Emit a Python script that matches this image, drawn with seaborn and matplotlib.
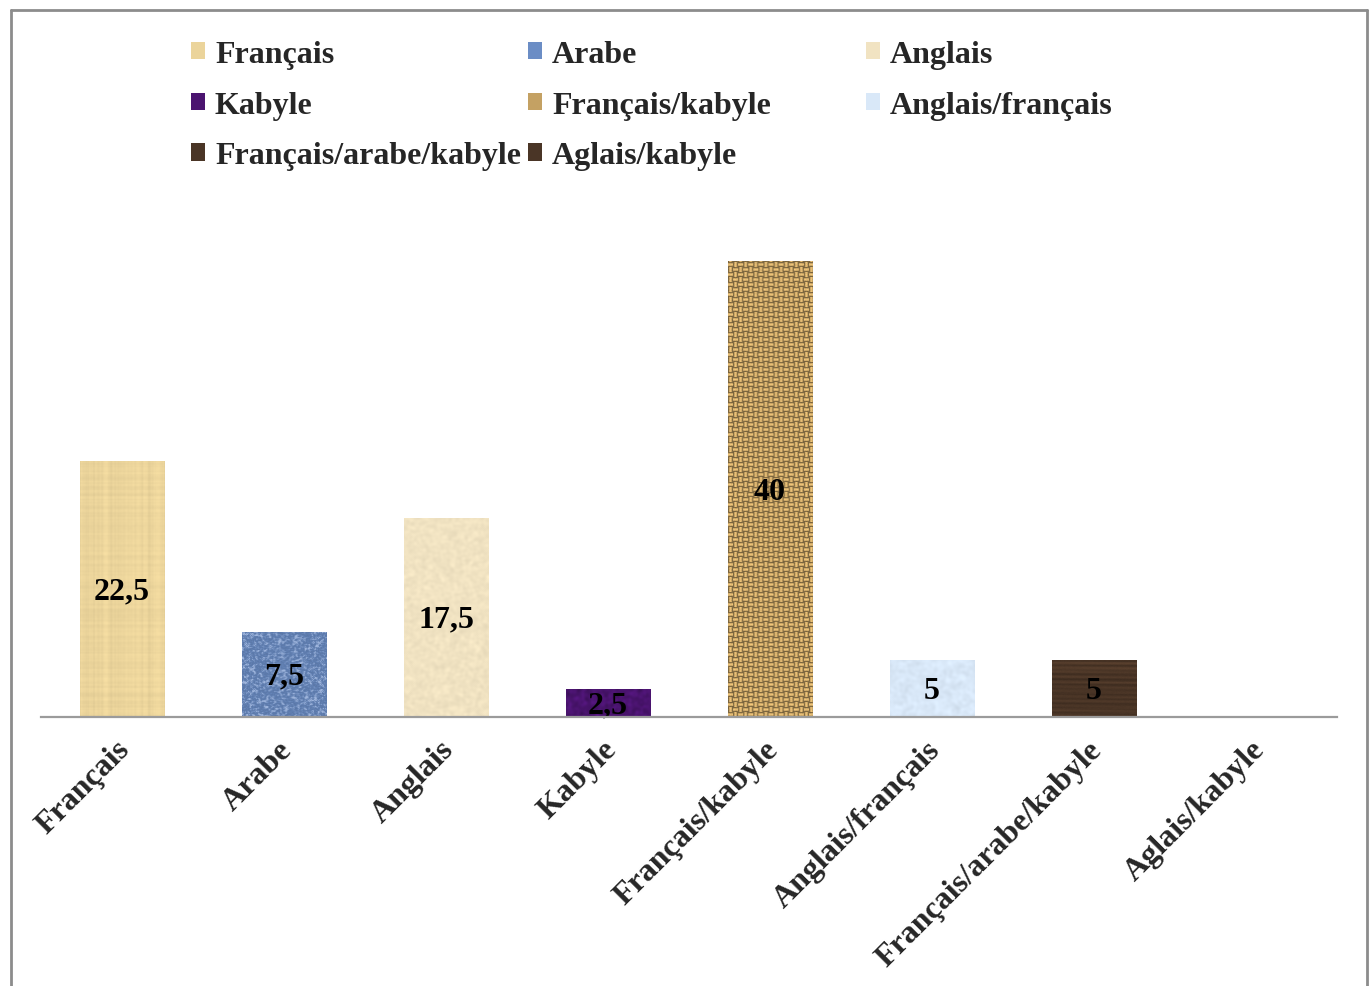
import numpy as np
import pandas as pd
import seaborn as sns
import matplotlib.pyplot as plt
import matplotlib.transforms as mtransforms
from matplotlib.patches import Patch
from matplotlib.lines import Line2D

# Langues utilisées (pourcentages)
categories = ["Français", "Arabe", "Anglais", "Kabyle", "Français/kabyle",
              "Anglais/français", "Français/arabe/kabyle", "Aglais/kabyle"]
values = [22.5, 7.5, 17.5, 2.5, 40, 5, 5, 0]
value_labels = ["22,5", "7,5", "17,5", "2,5", "40", "5", "5", ""]
colors = ["#EBD49B", "#6B8DC5", "#F1E3C2", "#4B1470", "#C4A163",
          "#D9E8F8", "#4A3526", "#4A3526"]
textures = ["papyrus", "denim", "parchment", "velvet", "weave",
            "marble", "wood", "wood"]

W, H = 1371, 987
sns.set_theme(style="white")
plt.rcParams["font.family"] = ["Liberation Serif", "DejaVu Serif"]
plt.rcParams["font.weight"] = "bold"
FS = 23

fig = plt.figure(figsize=(W / 100, H / 100), dpi=100)
ax = fig.add_axes([41 / W, 269 / H, 1296 / W, 513 / H])

df = pd.DataFrame({"langue": categories, "pct": values})
sns.barplot(data=df, x="langue", y="pct", hue="langue", palette=colors,
            saturation=1, width=0.52, legend=False, ax=ax, zorder=2)


def hash_noise(h, w, seed):
    i, j = np.mgrid[0:h, 0:w]
    v = np.sin(i * 12.9898 + j * 78.233 + seed * 37.719) * 43758.5453
    return v - np.floor(v)


def smooth(a, k):
    out = a.copy()
    for _ in range(k):
        out = (out + np.roll(out, 1, 0) + np.roll(out, -1, 0)
               + np.roll(out, 1, 1) + np.roll(out, -1, 1)) / 5.0
    return out


def texture(kind, base, h, w, seed):
    rgb = np.array(plt.matplotlib.colors.to_rgb(base))
    n = hash_noise(h, w, seed)
    if kind == "papyrus":
        cols = smooth(hash_noise(1, w, seed + 1).repeat(h, 0), 1)
        rows = smooth(hash_noise(h, 1, seed + 2).repeat(w, 1), 1)
        f = 1 + 0.07 * (cols - 0.5) + 0.05 * (rows - 0.5) + 0.03 * (smooth(n, 2) - 0.5)
        img = rgb * f[..., None]
    elif kind == "denim":
        s = smooth(n, 1)
        light = np.clip((s - 0.5) * 4, 0, 1)
        img = rgb * (0.85 + 0.1 * n)[..., None] * (1 - light[..., None] * 0.5) \
            + light[..., None] * 0.5 * np.array([0.85, 0.9, 1.0])
    elif kind == "parchment":
        f = 1 + 0.05 * (smooth(n, 4) - 0.5) * 4
        img = rgb * f[..., None]
    elif kind == "velvet":
        f = 1 + 0.35 * (smooth(n, 4) - 0.5) * 3
        img = rgb * f[..., None]
    elif kind == "weave":
        i, j = np.mgrid[0:h, 0:w]
        block = ((i // 5) + (j // 5)) % 2
        stripe = np.where(block == 0, (i % 5) / 4.0, (j % 5) / 4.0)
        f = 0.65 + 0.55 * np.sin(np.pi * stripe) + 0.1 * (n - 0.5)
        img = rgb * f[..., None]
    elif kind == "marble":
        f = 1 + 0.06 * (smooth(n, 5) - 0.5) * 4
        img = rgb * f[..., None]
    else:  # wood
        rows = smooth(hash_noise(h, 1, seed + 3).repeat(w, 1), 1)
        i, j = np.mgrid[0:h, 0:w]
        f = 1 + 0.25 * (rows - 0.5) + 0.08 * np.sin(i * 1.3 + j * 0.02) + 0.05 * (n - 0.5)
        img = rgb * f[..., None]
    return np.clip(img, 0, 1)


px_per_unit = 513 / 45
for k, bar in enumerate(ax.patches):
    h_val = bar.get_height()
    if h_val <= 0:
        continue
    x0 = bar.get_x()
    bw = bar.get_width()
    hp = max(int(round(h_val * px_per_unit)), 2)
    img = texture(textures[k], colors[k], hp, 84, k)
    im = ax.imshow(img, extent=(x0, x0 + bw, 0, h_val), aspect="auto",
                   origin="lower", zorder=3, interpolation="bilinear")
    im.set_clip_path(bar)

ax.set_xlim(-0.5, len(categories) - 0.5)
ax.set_ylim(0, 45)

# Étiquettes de valeurs au centre des barres
label_tr = mtransforms.offset_copy(ax.transData, fig=fig, x=0, y=-2, units="dots")
for k, bar in enumerate(ax.patches):
    if value_labels[k]:
        ax.text(bar.get_x() + bar.get_width() / 2, values[k] / 2, value_labels[k],
                ha="center", va="center", fontsize=FS, fontweight="bold",
                color="black", zorder=5, transform=label_tr)

for s in ["left", "right", "top"]:
    ax.spines[s].set_visible(False)
ax.spines["bottom"].set_color("#9b9b9b")
ax.spines["bottom"].set_linewidth(1.6)
ax.spines["bottom"].set_zorder(6)
ax.set_yticks([])
ax.set_xlabel("")
ax.set_ylabel("")
ax.tick_params(axis="x", length=0, pad=10)
ax.set_xticks(range(len(categories)))
ax.set_xticklabels(categories, rotation=45, ha="right", va="center",
                   rotation_mode="anchor", fontsize=FS, fontweight="bold")
shift = mtransforms.ScaledTranslation(4 / 100, -14 / 100, fig.dpi_scale_trans)
for lab in ax.get_xticklabels():
    lab.set_transform(lab.get_transform() + shift)

# Légende en trois colonnes
order = [[0, 3, 6], [1, 4, 7], [2, 5]]
col_x = [191, 528, 866]
for cx, idx in zip(col_x, order):
    handles = [Patch(facecolor=colors[i], edgecolor="none") for i in idx]
    labels = [categories[i] for i in idx]
    fig.legend(handles, labels, loc="upper left",
               bbox_to_anchor=(cx / W, 1 - 41 / H), frameon=False,
               prop={"weight": "bold", "size": FS},
               handlelength=0.45, handleheight=0.45, handletextpad=0.3,
               labelspacing=0.68, borderpad=0, borderaxespad=0)

# Cadre du graphique
frame_kw = dict(color="#8c8c8c", lw=2, transform=fig.transFigure)
fig.add_artist(Line2D([11 / W, 11 / W], [0, 1 - 11 / H], **frame_kw))
fig.add_artist(Line2D([11 / W, 1367 / W], [1 - 11 / H, 1 - 11 / H], **frame_kw))
fig.add_artist(Line2D([1367 / W, 1367 / W], [0, 1 - 11 / H], **frame_kw))

fig.savefig("out.png", dpi=100, facecolor="white")
